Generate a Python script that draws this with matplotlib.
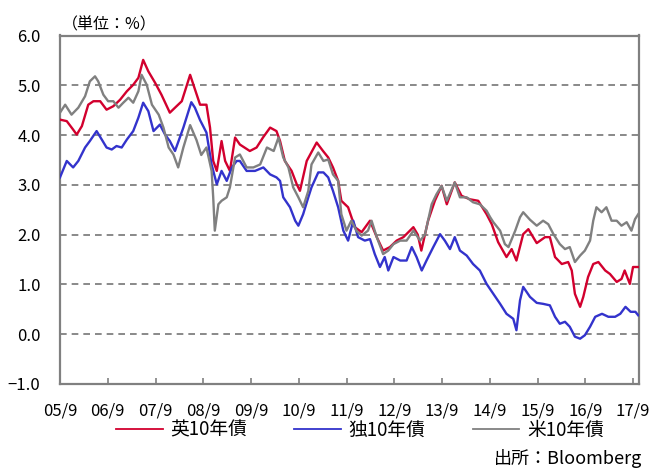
import matplotlib
matplotlib.use("Agg")
import matplotlib.pyplot as plt

plt.rcParams['font.family'] = ['Noto Sans CJK JP', 'DejaVu Sans']
plt.rcParams['lines.scale_dashes'] = False

# Month offsets are counted from 2005/9
uk_month = [0, 1.7, 3.3, 4.2, 5.5, 7.1, 8.4, 10.1, 11.7, 13.4, 15.1, 16.8, 18.4, 19.7,
            20.9, 22.2, 23.9, 25.5, 27.6, 28.9, 30.6, 32.7, 35.2, 36.8, 37.7, 38.5,
            39.4, 40.6, 41.5, 42.7, 44.0, 45.2, 47.7, 49.4, 51.0, 52.8, 54.4, 55.3,
            56.5, 58.2, 59.5, 60.3, 62.0, 64.5, 66.1, 67.4, 68.6, 69.9, 70.7, 72.4,
            74.1, 75.8, 77.9, 79.6, 81.2, 82.9, 84.6, 86.3, 88.8, 89.9, 90.8, 92.5,
            94.2, 95.9, 97.2, 99.2, 100.9, 103.0, 105.1, 107.2, 108.5, 110.1, 112.2,
            113.5, 114.7, 116.4, 117.7, 119.8, 121.9, 123.1, 124.4, 126.1, 127.7,
            128.6, 129.4, 130.7, 131.5, 132.7, 134.0, 135.3, 137.0, 138.2, 139.9,
            141.1, 141.9, 143.2, 144.0, 145.3]
uk_yield = [4.31, 4.28, 4.11, 4.01, 4.18, 4.61, 4.68, 4.68, 4.51, 4.58, 4.71, 4.88, 5.01, 5.15,
            5.51, 5.28, 5.05, 4.81, 4.45, 4.55, 4.68, 5.21, 4.61, 4.61, 4.15, 3.48,
            3.28, 3.88, 3.48, 3.28, 3.95, 3.81, 3.68, 3.75, 3.95, 4.15, 4.08, 3.88,
            3.48, 3.28, 3.01, 2.88, 3.48, 3.85, 3.68, 3.55, 3.35, 3.08, 2.68, 2.55,
            2.15, 2.05, 2.28, 1.95, 1.68, 1.75, 1.88, 1.95, 2.15, 2.00, 1.68, 2.28,
            2.68, 2.98, 2.61, 3.05, 2.78, 2.71, 2.68, 2.41, 2.21, 1.85, 1.55,
            1.71, 1.48, 2.01, 2.11, 1.83, 1.95, 1.95, 1.55, 1.41, 1.45,
            1.28, 0.81, 0.55, 0.75, 1.15, 1.41, 1.45, 1.28, 1.21, 1.05,
            1.11, 1.28, 1.01, 1.35, 1.35]

de_month = [0, 1.7, 3.3, 4.6, 6.3, 7.5, 9.2, 10.5, 11.7, 13.0, 14.2, 15.5, 16.8, 18.4,
            19.7, 20.9, 22.2, 23.5, 25.1, 26.4, 27.6, 28.9, 31.0, 33.0, 33.9, 35.2,
            36.8, 38.1, 39.4, 40.6, 41.9, 43.2, 44.4, 45.2, 46.9, 49.0, 51.1, 52.8,
            54.4, 55.3, 56.1, 57.8, 59.1, 59.9, 61.1, 62.4, 63.2, 64.9, 66.2, 67.4,
            68.6, 69.9, 71.2, 72.4, 73.7, 74.9, 76.6, 77.9, 79.1, 80.4, 81.6, 82.5,
            83.8, 85.5, 87.1, 88.4, 89.6, 90.9, 92.1, 93.8, 95.5, 96.7, 98.0, 99.2,
            100.5, 102.2, 103.8, 105.5, 107.2, 108.9, 110.6, 112.2, 113.9, 114.7,
            115.6, 116.4, 118.1, 119.8, 121.4, 123.1, 124.4, 125.6, 126.9, 128.1,
            129.4, 130.7, 131.9, 133.2, 134.5, 136.2, 137.8, 139.5, 140.8, 142.1,
            143.4, 144.6, 145.3]
de_yield = [3.15, 3.48, 3.35, 3.48, 3.75, 3.88, 4.08, 3.91, 3.75, 3.71, 3.78, 3.75, 3.91, 4.08,
            4.35, 4.65, 4.48, 4.08, 4.21, 4.01, 3.88, 3.68, 4.15, 4.66, 4.55, 4.30,
            4.05, 3.41, 3.01, 3.28, 3.08, 3.35, 3.48, 3.48, 3.28, 3.28, 3.35, 3.21,
            3.15, 3.08, 2.75, 2.55, 2.28, 2.18, 2.41, 2.75, 2.95, 3.25, 3.25, 3.15,
            2.88, 2.55, 2.08, 1.88, 2.28, 1.95, 1.88, 1.91, 1.61, 1.35, 1.55, 1.28,
            1.55, 1.48, 1.48, 1.75, 1.55, 1.28, 1.48, 1.75, 2.01, 1.88, 1.71, 1.95,
            1.68, 1.58, 1.41, 1.28, 1.01, 0.81, 0.61, 0.41, 0.31, 0.08,
            0.68, 0.95, 0.75, 0.63, 0.61, 0.58, 0.35, 0.21, 0.25, 0.15,
            -0.05, -0.09, -0.02, 0.15, 0.35, 0.41, 0.35, 0.35, 0.41, 0.55,
            0.45, 0.45, 0.38]

us_month = [0, 1.3, 2.9, 4.6, 6.3, 7.5, 8.8, 9.6, 10.9, 12.1, 13.4, 14.7, 15.9, 17.2,
            18.4, 19.7, 20.5, 21.8, 23.1, 24.8, 26.0, 27.3, 28.5, 29.7, 31.0, 32.7,
            34.3, 35.5, 36.8, 38.1, 38.5, 38.9, 39.8, 40.6, 41.9, 42.7, 44.0, 45.2,
            46.9, 48.6, 50.3, 52.0, 53.7, 54.9, 56.1, 57.4, 58.6, 59.9, 61.1, 62.4,
            63.2, 64.9, 66.2, 67.4, 68.6, 69.9, 70.7, 72.0, 73.2, 74.5, 75.8, 77.4,
            78.3, 79.6, 81.2, 82.5, 83.8, 85.5, 87.1, 88.8, 90.5, 91.7, 93.4, 94.6,
            95.9, 97.2, 99.2, 100.5, 102.2, 103.8, 105.5, 107.2, 108.1, 108.9, 110.6,
            111.8, 112.7, 114.4, 115.6, 116.4, 118.1, 119.8, 121.4, 122.7, 124.0,
            125.6, 126.9, 128.1, 129.4, 130.7, 131.9, 133.2, 134.0, 134.8, 136.1,
            137.3, 138.6, 139.9, 141.1, 142.4, 143.6, 144.5, 145.3]
us_yield = [4.45, 4.61, 4.41, 4.55, 4.78, 5.08, 5.18, 5.08, 4.81, 4.68, 4.68, 4.55, 4.65, 4.75,
            4.65, 4.88, 5.21, 5.01, 4.61, 4.41, 4.15, 3.75, 3.61, 3.35, 3.75, 4.20,
            3.90, 3.60, 3.75, 3.28, 2.75, 2.08, 2.61, 2.68, 2.75, 2.95, 3.55, 3.61,
            3.35, 3.35, 3.41, 3.75, 3.68, 3.95, 3.55, 3.35, 2.95, 2.75, 2.55, 2.88,
            3.41, 3.65, 3.48, 3.51, 3.21, 3.08, 2.41, 2.08, 2.28, 2.08, 1.98, 2.08,
            2.28, 1.95, 1.61, 1.68, 1.81, 1.88, 1.88, 2.08, 1.88, 2.00, 2.61, 2.81,
            2.98, 2.68, 3.05, 2.75, 2.75, 2.65, 2.61, 2.48, 2.35, 2.25, 2.08,
            1.81, 1.75, 2.08, 2.35, 2.45, 2.30, 2.18, 2.28, 2.21, 2.01,
            1.81, 1.71, 1.75, 1.45, 1.58, 1.68, 1.88, 2.28, 2.55, 2.45,
            2.55, 2.28, 2.28, 2.18, 2.25, 2.08, 2.31, 2.41]

tick_labels = ["05/9", "06/9", "07/9", "08/9", "09/9", "10/9", "11/9",
               "12/9", "13/9", "14/9", "15/9", "16/9", "17/9"]
series_names = ["英10年債", "独10年債", "米10年債"]
y_ticks = [-1.0, 0.0, 1.0, 2.0, 3.0, 4.0, 5.0, 6.0]

RED = "#D2002E"
BLUE = "#3333CC"
GRAY = "#808080"

fig = plt.figure(figsize=(6.57, 4.68), dpi=100)
ax = fig.add_axes([60 / 657, 1 - 384 / 468, 579 / 657, 348.5 / 468])

ax.plot(uk_month, uk_yield, color=RED, lw=1.7, label=series_names[0], zorder=3)
ax.plot(de_month, de_yield, color=BLUE, lw=1.7, label=series_names[1], zorder=3)
ax.plot(us_month, us_yield, color=GRAY, lw=1.7, label=series_names[2], zorder=3)

ax.set_xlim(0, 145.5)
ax.set_ylim(-1.0, 6.0)

ax.set_yticks(y_ticks)
ax.set_yticklabels([f"{v:.1f}".replace("-", "\u2212") for v in y_ticks])
ax.set_xticks([12 * i for i in range(len(tick_labels))])
ax.set_xticklabels(tick_labels)

ax.tick_params(axis="y", length=0, pad=14, labelsize=12, colors="black")
ax.tick_params(axis="x", direction="in", length=4, width=1.2, color=GRAY,
               pad=13, labelsize=12, labelcolor="black")

for v in y_ticks[1:-1]:
    ax.axhline(v, color=GRAY, lw=1.3, ls=(0, (4.8, 3.6)), zorder=1)

for side in ("left", "right", "top", "bottom"):
    ax.spines[side].set_color(GRAY)
    ax.spines[side].set_linewidth(1.6)

fig.text(62 / 657, 1 - 25 / 468, "（単位：%）", fontsize=11.5, va="center", ha="left")
fig.text(494 / 657, 1 - 458 / 468, "出所：Bloomberg", fontsize=13, va="center", ha="left")

fig.legend(loc="center", bbox_to_anchor=(0.548, 1 - 430 / 468), ncol=3, frameon=False,
           fontsize=13.5, handlelength=2.5, columnspacing=2.5, handletextpad=0.4)
for line in fig.legends[0].get_lines():
    line.set_linewidth(1.3)

fig.savefig("out.png", dpi=100)
